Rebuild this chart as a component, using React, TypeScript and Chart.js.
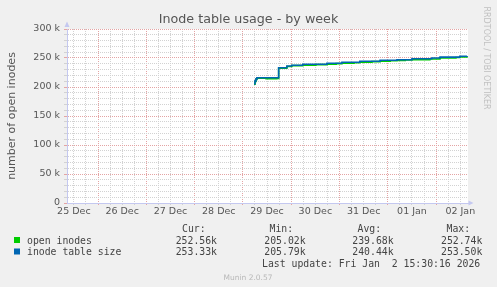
import React, { useEffect, useRef } from 'react';
import { Chart, registerables } from 'chart.js';

Chart.register(...registerables);

// ---- text ----
const TITLE = 'Inode table usage - by week';
const Y_TITLE = 'number of open inodes';
const WATERMARK = 'RRDTOOL / TOBI OETIKER';
const FOOTER = 'Munin 2.0.57';
const LAST_UPDATE = 'Last update: Fri Jan  2 15:30:16 2026';

// x axis: days since 25 Dec 00:00; labels sit at noon of each day
const dayLabels = ['25 Dec', '26 Dec', '27 Dec', '28 Dec', '29 Dec', '30 Dec', '31 Dec', '01 Jan', '02 Jan'];
const X_MIN = 0.358;
const X_MAX = 8.66;
const X_STEP = 0.25; // 6 hour minor grid

// y axis in thousands
const Y_MIN = 0;
const Y_MAX = 300;
const Y_STEP = 10;
const Y_MAJOR = 50;

// ---- series ----
const seriesNames = ['open inodes', 'inode table size'];
const seriesColors = ['#00cc00', '#0066b3'];

const openInodesDays = [4.23, 4.25, 4.27, 4.29, 4.48, 4.70, 4.74, 4.91, 5.01, 5.24, 5.51, 5.74, 5.93, 6.05, 6.30, 6.42, 6.67, 6.84, 7.05, 7.19, 7.36, 7.50, 7.87, 8.08, 8.41, 8.49, 8.64];
const openInodesValues = [205.02, 209.6, 213.1, 215.3, 214.3, 214.8, 232.4, 235.4, 236.9, 237.4, 238.5, 239.3, 240.3, 240.9, 241.9, 242.7, 243.7, 244.4, 245.3, 245.6, 246.6, 247.2, 248.2, 249.9, 250.9, 252.0, 252.56];

const tableSizeDays = [4.23, 4.25, 4.27, 4.29, 4.70, 4.74, 4.91, 5.01, 5.24, 5.74, 6.05, 6.42, 6.84, 7.19, 7.50, 7.91, 8.08, 8.49, 8.64];
const tableSizeValues = [205.79, 210.5, 214.0, 216.0, 216.0, 233.3, 236.2, 237.4, 239.1, 240.9, 242.6, 244.3, 246.0, 247.1, 248.8, 250.0, 251.5, 253.0, 253.33];

// ---- legend table ----
const legendHeaders = ['Cur:', 'Min:', 'Avg:', 'Max:'];
const openInodesStats = ['252.56k', '205.02k', '239.68k', '252.74k'];
const tableSizeStats = ['253.33k', '205.79k', '240.44k', '253.50k'];

const W = 497;
const H = 287;
const MAJOR_GRID = '#e4a4a4';
const MINOR_GRID = '#d2d2d2';
const AXIS = '#c4c8f0';
const TEXT = '#555555';

const isMultiple = (v: number, m: number) => Math.abs(v / m - Math.round(v / m)) < 1e-6;

const muninPlugin = {
  id: 'muninDecor',
  beforeDraw(chart: any) {
    const { ctx, chartArea: a } = chart;
    ctx.save();
    ctx.fillStyle = '#f0f0f0';
    ctx.fillRect(0, 0, W, H);
    ctx.fillStyle = '#ffffff';
    ctx.fillRect(a.left, a.top, a.right - a.left, a.bottom - a.top);
    ctx.restore();
  },
  afterDraw(chart: any) {
    const { ctx, chartArea: a } = chart;
    ctx.save();
    // title
    ctx.fillStyle = TEXT;
    ctx.font = '12.7px "DejaVu Sans"';
    ctx.textAlign = 'center';
    ctx.textBaseline = 'alphabetic';
    ctx.fillText(TITLE, (a.left + a.right) / 2 - 19, 23);

    // y title
    ctx.save();
    ctx.translate(15, (a.top + a.bottom) / 2);
    ctx.rotate(-Math.PI / 2);
    ctx.font = '11px "DejaVu Sans"';
    ctx.fillText(Y_TITLE, 0, 0);
    ctx.restore();

    // watermark
    ctx.save();
    ctx.translate(483.5, 58);
    ctx.rotate(Math.PI / 2);
    ctx.font = '8px "DejaVu Sans"';
    ctx.fillStyle = '#c0c0c0';
    ctx.fillText(WATERMARK, 0, 0);
    ctx.restore();

    // axis arrows
    ctx.fillStyle = AXIS;
    ctx.beginPath();
    ctx.moveTo(a.left - 2.5, a.top - 2);
    ctx.lineTo(a.left + 2.5, a.top - 2);
    ctx.lineTo(a.left, a.top - 7.5);
    ctx.closePath();
    ctx.fill();
    ctx.beginPath();
    ctx.moveTo(a.right + 0.5, a.bottom - 2.5);
    ctx.lineTo(a.right + 0.5, a.bottom + 2.5);
    ctx.lineTo(a.right + 5.5, a.bottom);
    ctx.closePath();
    ctx.fill();

    // legend
    ctx.font = '9.8px "DejaVu Sans Mono"';
    ctx.textAlign = 'left';
    ctx.fillStyle = '#444444';
    const headerX = [182, 269.5, 357.5, 446.5];
    const valueX = [175.7, 264.3, 352.3, 441];
    legendHeaders.forEach((h, i) => ctx.fillText(h, headerX[i], 231.5));
    const rows = [openInodesStats, tableSizeStats];
    const rowY = [243.5, 255];
    rows.forEach((r, ri) => {
      ctx.fillStyle = seriesColors[ri];
      ctx.fillRect(14, rowY[ri] - 6.5, 6, 6);
      ctx.fillStyle = '#444444';
      ctx.fillText(seriesNames[ri], 27, rowY[ri]);
      r.forEach((v, i) => ctx.fillText(v, valueX[i], rowY[ri]));
    });
    ctx.fillText(LAST_UPDATE, 262, 266.5);

    // footer
    ctx.font = '7.5px "DejaVu Sans"';
    ctx.textAlign = 'center';
    ctx.fillStyle = '#b8b8b8';
    ctx.fillText(FOOTER, 248, 280);
    ctx.restore();
  },
};

export default function App() {
  const ref = useRef<HTMLCanvasElement | null>(null);

  useEffect(() => {
    if (!ref.current) return;
    Chart.defaults.font.family = '"DejaVu Sans"';
    const chart = new Chart(ref.current, {
      type: 'line',
      data: {
        datasets: [
          {
            label: seriesNames[1],
            data: tableSizeDays.map((d, i) => ({ x: d, y: tableSizeValues[i] })),
            borderColor: seriesColors[1],
            borderWidth: 1.6,
            pointRadius: 0,
            stepped: true,
            fill: false,
            order: 0,
          },
          {
            label: seriesNames[0],
            data: openInodesDays.map((d, i) => ({ x: d, y: openInodesValues[i] })),
            borderColor: seriesColors[0],
            borderWidth: 1.6,
            pointRadius: 0,
            stepped: true,
            fill: false,
            order: 1,
          },
        ],
      },
      options: {
        responsive: false,
        animation: false,
        devicePixelRatio: 1,
        layout: { padding: { left: 0, top: 29, right: W - 468, bottom: H - 203 - 20 } },
        plugins: {
          legend: { display: false },
          title: { display: false },
          tooltip: { enabled: false },
        },
        scales: {
          x: {
            type: 'linear',
            min: X_MIN,
            max: X_MAX,
            afterFit: (s: any) => { s.height = 20; },
            ticks: {
              stepSize: X_STEP,
              includeBounds: false,
              autoSkip: false,
              maxRotation: 0,
              padding: 1,
              color: TEXT,
              font: { size: 9.5 },
              callback: (value: any) => {
                const v = Number(value);
                if (isMultiple(v - 0.5, 1)) return dayLabels[Math.floor(v)] ?? '';
                return '';
              },
            },
            grid: {
              color: (c: any) => (c.tick && isMultiple(c.tick.value, 1) ? MAJOR_GRID : MINOR_GRID),
              lineWidth: 1,
              tickLength: 2,
            },
            border: { display: true, color: AXIS, width: 1, dash: [1, 1] },
          },
          y: {
            type: 'linear',
            min: Y_MIN,
            max: Y_MAX,
            afterFit: (s: any) => { s.width = 67; },
            ticks: {
              stepSize: Y_STEP,
              autoSkip: false,
              padding: 4,
              color: TEXT,
              font: { size: 9.5 },
              callback: (value: any) => {
                const v = Number(value);
                if (!isMultiple(v, Y_MAJOR)) return '';
                return v === 0 ? '0' : `${v} k`;
              },
            },
            grid: {
              color: (c: any) => (c.tick && isMultiple(c.tick.value, Y_MAJOR) ? MAJOR_GRID : MINOR_GRID),
              lineWidth: 1,
              tickLength: 3,
            },
            border: { display: true, color: AXIS, width: 1, dash: [1, 1] },
          },
        },
      },
      plugins: [muninPlugin],
    } as any);
    return () => chart.destroy();
  }, []);

  return (
    <div style={{ position: 'fixed', left: 0, top: 0, width: W, height: H, background: '#f0f0f0' }}>
      <canvas ref={ref} width={W} height={H} style={{ display: 'block', width: W, height: H }} />
    </div>
  );
}
